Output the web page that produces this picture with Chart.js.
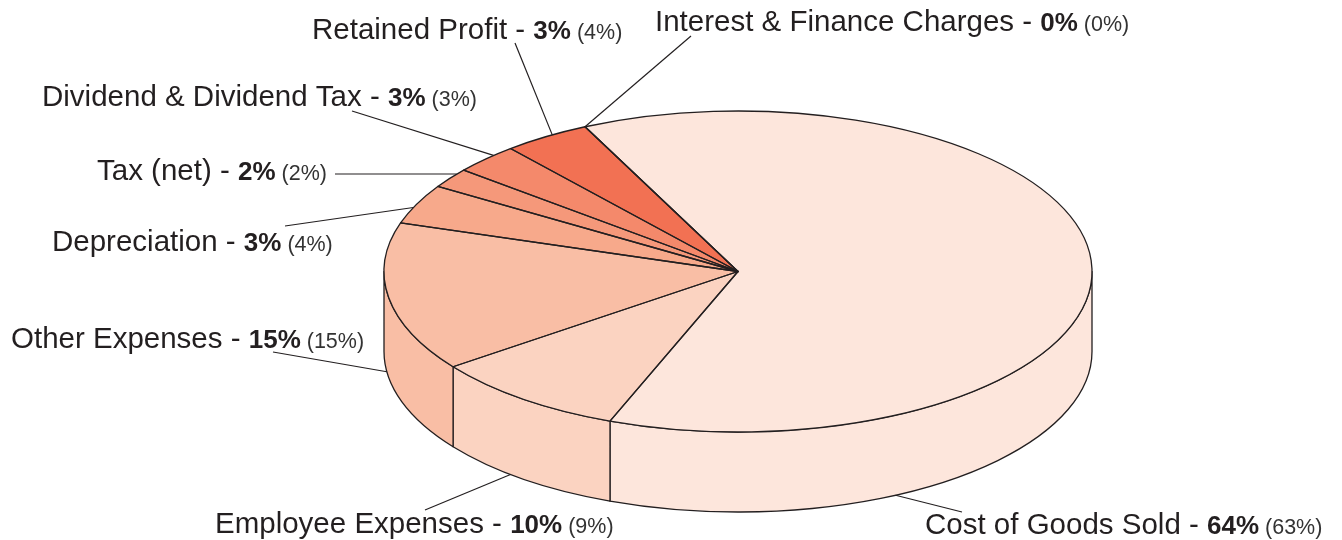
<!DOCTYPE html>
<html lang="en">
<head>
    <meta charset="UTF-8">
    <title>Where the money went</title>
    <script src="https://cdn.jsdelivr.net/npm/chart.js"></script>
    <style>
        body {
            margin: 0;
            background: #fff;
        }
        #wrap {
            position: relative;
            width: 1342px;
            height: 540px;
        }
    </style>
</head>
<body>

<div id="wrap">
    <canvas id="pieChart"></canvas>
</div>

<script>
    const categories = ['Cost of Goods Sold', 'Employee Expenses', 'Other Expenses', 'Depreciation',
        'Tax (net)', 'Dividend & Dividend Tax', 'Retained Profit', 'Interest & Finance Charges'];
    const shareNow = [64, 10, 15, 3, 2, 3, 3, 0];
    const sharePrev = [63, 9, 15, 4, 2, 3, 4, 0];

    const sliceColors = ['#fde6dc', '#fbd3c1', '#f9bea5', '#f7a98b', '#f5987a', '#f4896b', '#f27153', '#ef5b3c'];
    const lineColor = '#231f20';

    // where each label sits: text start + baseline, leader start, and how far along the slice the leader lands
    const labelSpots = [
        { x: 925, y: 534, lx: 962, ly: 512, at: 0.79 },
        { x: 215, y: 533, lx: 425, ly: 510, at: 0.58 },
        { x: 11, y: 348, lx: 273, ly: 352, at: 0.54 },
        { x: 52, y: 251, lx: 285, ly: 226, at: 0.41 },
        { x: 97, y: 180, lx: 335, ly: 174, at: 0.75 },
        { x: 42, y: 106, lx: 352, ly: 111, at: 0.66 },
        { x: 312, y: 39, lx: 515, ly: 43, at: 0.58 },
        { x: 655, y: 31, lx: 691, ly: 36, at: 0.5 }
    ];

    // top face ellipse and thickness of the disc
    const rx = 354, ry = 160.5, depth = 80;

    function frontParts(a, b) {
        // bits of [a, b] on the visible front half of the rim
        const parts = [];
        for (let k = -1; k <= 1; k++) {
            const lo = Math.max(a, k * 2 * Math.PI);
            const hi = Math.min(b, k * 2 * Math.PI + Math.PI);
            if (hi > lo) parts.push([lo, hi]);
        }
        return parts;
    }

    const pie3d = {
        id: 'pie3d',
        beforeDatasetsDraw(chart) {
            const ctx = chart.ctx;
            const arcs = chart.getDatasetMeta(0).data;
            ctx.save();
            ctx.lineWidth = 1.3;
            ctx.strokeStyle = lineColor;
            ctx.lineJoin = 'round';
            arcs.forEach((arc, i) => {
                frontParts(arc.startAngle, arc.endAngle).forEach(([a, b]) => {
                    ctx.beginPath();
                    ctx.ellipse(arc.x, arc.y, rx, ry, 0, a, b);
                    ctx.lineTo(arc.x + rx * Math.cos(b), arc.y + depth + ry * Math.sin(b));
                    ctx.ellipse(arc.x, arc.y + depth, rx, ry, 0, b, a, true);
                    ctx.closePath();
                    ctx.fillStyle = sliceColors[i];
                    ctx.fill();
                    ctx.stroke();
                });
            });
            ctx.restore();

            // squash the round pie into the top face ellipse
            const c = arcs[0];
            ctx.save();
            ctx.translate(c.x, c.y);
            ctx.scale(rx / c.outerRadius, ry / c.outerRadius);
            ctx.translate(-c.x, -c.y);
        },
        afterDatasetsDraw(chart) {
            const ctx = chart.ctx;
            ctx.restore();
            const arcs = chart.getDatasetMeta(0).data;
            ctx.save();
            ctx.lineWidth = 1.3;
            ctx.strokeStyle = lineColor;
            ctx.lineJoin = 'round';
            arcs.forEach(arc => {
                ctx.beginPath();
                ctx.moveTo(arc.x, arc.y);
                ctx.ellipse(arc.x, arc.y, rx, ry, 0, arc.startAngle, arc.endAngle);
                ctx.closePath();
                ctx.stroke();
            });
            ctx.restore();
        },
        afterDraw(chart) {
            const ctx = chart.ctx;
            const arcs = chart.getDatasetMeta(0).data;
            ctx.save();
            arcs.forEach((arc, i) => {
                const s = labelSpots[i];
                const t = arc.startAngle + (arc.endAngle - arc.startAngle) * s.at;
                const ex = arc.x + rx * Math.cos(t);
                let ey = arc.y + ry * Math.sin(t);
                if (Math.sin(t) > 0) ey += depth;

                ctx.strokeStyle = lineColor;
                ctx.lineWidth = 1.2;
                ctx.beginPath();
                ctx.moveTo(s.lx, s.ly);
                ctx.lineTo(ex, ey);
                ctx.stroke();

                ctx.textBaseline = 'alphabetic';
                ctx.fillStyle = lineColor;
                let x = s.x;
                const first = categories[i] + ' - ';
                ctx.font = '29.5px "Liberation Sans", Arial, sans-serif';
                ctx.fillText(first, x, s.y);
                x += ctx.measureText(first).width;
                const bold = shareNow[i] + '%';
                ctx.font = 'bold 26px "Liberation Sans", Arial, sans-serif';
                ctx.fillText(bold, x, s.y);
                x += ctx.measureText(bold).width;
                ctx.font = '21.5px "Liberation Sans", Arial, sans-serif';
                ctx.fillStyle = '#333';
                ctx.fillText(' (' + sharePrev[i] + '%)', x, s.y);
            });
            ctx.restore();
        }
    };

    new Chart(document.getElementById('pieChart'), {
        type: 'pie',
        data: {
            labels: categories,
            datasets: [{
                data: sharePrev,
                backgroundColor: sliceColors,
                borderWidth: 0,
                hoverBorderWidth: 0,
                offset: 0,
                hoverOffset: 0
            }]
        },
        options: {
            responsive: true,
            maintainAspectRatio: false,
            animation: false,
            events: [],
            rotation: -25.6,
            layout: {
                padding: { top: 111, bottom: 108, left: 577.5, right: 443.5 }
            },
            plugins: {
                legend: { display: false },
                tooltip: { enabled: false }
            }
        },
        plugins: [pie3d]
    });
</script>
</body>
</html>
